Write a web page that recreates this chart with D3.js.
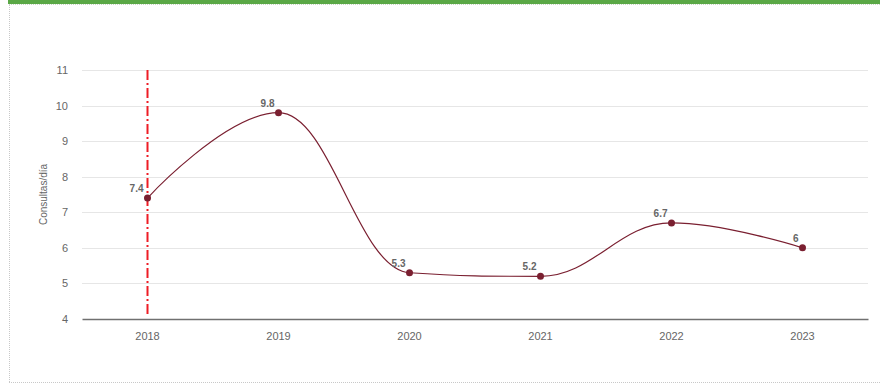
<!DOCTYPE html>
<html>
<head>
<meta charset="utf-8">
<script src="https://cdn.jsdelivr.net/npm/d3@7"></script>
<style>
  body { margin: 0; background: #fff; font-family: "Liberation Sans", Arial, sans-serif; }
  svg { display: block; }
  svg text { font-family: "Liberation Sans", Arial, sans-serif; }
</style>
</head>
<body>
<svg id="chart" width="880" height="384"></svg>
<script>
// chart data
var years = ['2018', '2019', '2020', '2021', '2022', '2023'];
var consultas = [7.4, 9.8, 5.3, 5.2, 6.7, 6];
var yTicks = [4, 5, 6, 7, 8, 9, 10, 11];
var markerYear = '2018';

var svg = d3.select('#chart');
var margin = { top: 70, right: 12, bottom: 65, left: 82 };
var width = +svg.attr('width');
var height = +svg.attr('height');
var innerWidth = width - margin.left - margin.right;
var innerHeight = height - margin.top - margin.bottom;

// frame: green strip on top, dotted border left and bottom
svg.append('rect')
    .attr('x', 8).attr('y', 0)
    .attr('width', width - 8).attr('height', 4)
    .attr('fill', '#5aa846');
svg.append('line')
    .attr('x1', 9).attr('x2', width).attr('y1', 4.5).attr('y2', 4.5)
    .attr('stroke', '#c9d9c4').attr('stroke-dasharray', '1,1');
svg.append('line')
    .attr('x1', 9.5).attr('x2', 9.5).attr('y1', 5).attr('y2', 383)
    .attr('stroke', '#c8c8c8').attr('stroke-dasharray', '1,1');
svg.append('line')
    .attr('x1', 9).attr('x2', width).attr('y1', 382.5).attr('y2', 382.5)
    .attr('stroke', '#c8c8c8').attr('stroke-dasharray', '1,1');

var g = svg.append('g')
    .attr('transform', `translate(${margin.left},${margin.top})`);

var xScale = d3.scaleBand().domain(years).range([0, innerWidth]);
var yScale = d3.scaleLinear().domain([4, 11]).range([innerHeight, 0]);
var xPos = function (d) { return xScale(d) + xScale.bandwidth() / 2; };

// gridlines
g.append('g').selectAll('line')
  .data(yTicks.slice(1))
  .enter().append('line')
    .attr('x1', 0).attr('x2', innerWidth)
    .attr('y1', function (d) { return Math.round(yScale(d)) + 0.5; })
    .attr('y2', function (d) { return Math.round(yScale(d)) + 0.5; })
    .attr('stroke', '#e6e6e6');

// y axis labels
var yAxis = d3.axisLeft(yScale)
    .tickValues(yTicks)
    .tickFormat(d3.format('d'))
    .tickSize(0)
    .tickPadding(14);
var yAxisG = g.append('g').call(yAxis)
    .attr('font-family', null).attr('font-size', null);
yAxisG.select('.domain').remove();
yAxisG.selectAll('text')
    .attr('fill', '#666').style('font-size', '11px');

// x axis
var xAxis = d3.axisBottom(xScale).tickSize(0).tickPadding(13);
var xAxisG = g.append('g')
    .attr('transform', `translate(0,${innerHeight})`)
    .call(xAxis)
    .attr('font-family', null).attr('font-size', null);
xAxisG.select('.domain').attr('stroke', '#707070').attr('stroke-width', 1.3);
xAxisG.selectAll('text')
    .attr('fill', '#666').style('font-size', '11px');

// y axis title
svg.append('text')
    .attr('transform', `translate(47,${margin.top + innerHeight / 2}) rotate(-90)`)
    .attr('text-anchor', 'middle')
    .attr('fill', '#666')
    .style('font-size', '10px')
    .text('Consultas/día');

// red dash-dot marker line
g.append('line')
    .attr('x1', xPos(markerYear)).attr('x2', xPos(markerYear))
    .attr('y1', 0).attr('y2', innerHeight - 4)
    .attr('stroke', '#ee1c25').attr('stroke-width', 2)
    .attr('stroke-dasharray', '10,3,2,3');

// spline curve, smoothing like a charting lib "spline" series
function splineCurve(context) {
  var pts = [];
  return {
    areaStart: function () {},
    areaEnd: function () {},
    lineStart: function () { pts = []; },
    point: function (x, y) { pts.push([x, y]); },
    lineEnd: function () {
      var s = 1.5, d = s + 1;
      var rc = [];
      context.moveTo(pts[0][0], pts[0][1]);
      for (var i = 1; i < pts.length; i++) {
        var p = pts[i], last = pts[i - 1];
        var lcx = p[0], lcy = p[1], rcx = null, rcy = null;
        if (i < pts.length - 1) {
          var next = pts[i + 1];
          lcx = (s * p[0] + last[0]) / d;
          lcy = (s * p[1] + last[1]) / d;
          rcx = (s * p[0] + next[0]) / d;
          rcy = (s * p[1] + next[1]) / d;
          var corr = ((rcy - lcy) * (rcx - p[0])) / (rcx - lcx) + p[1] - rcy;
          lcy += corr; rcy += corr;
          if (lcy > last[1] && lcy > p[1]) {
            lcy = Math.max(last[1], p[1]); rcy = 2 * p[1] - lcy;
          } else if (lcy < last[1] && lcy < p[1]) {
            lcy = Math.min(last[1], p[1]); rcy = 2 * p[1] - lcy;
          }
          if (rcy > next[1] && rcy > p[1]) {
            rcy = Math.max(next[1], p[1]); lcy = 2 * p[1] - rcy;
          } else if (rcy < next[1] && rcy < p[1]) {
            rcy = Math.min(next[1], p[1]); lcy = 2 * p[1] - rcy;
          }
        }
        var prev = rc[i - 1] || last;
        context.bezierCurveTo(prev[0], prev[1], lcx, lcy, p[0], p[1]);
        rc[i] = rcx === null ? null : [rcx, rcy];
      }
    }
  };
}

var data = years.map(function (y, i) { return { year: y, value: consultas[i] }; });

var line = d3.line()
    .x(function (d) { return xPos(d.year); })
    .y(function (d) { return yScale(d.value); })
    .curve(splineCurve);

g.append('path')
    .datum(data)
    .attr('fill', 'none')
    .attr('stroke', '#7a1f30')
    .attr('stroke-width', 1.2)
    .attr('d', line);

g.selectAll('circle')
  .data(data)
  .enter().append('circle')
    .attr('cx', function (d) { return xPos(d.year); })
    .attr('cy', function (d) { return yScale(d.value); })
    .attr('r', 3.5)
    .attr('fill', '#7a1f30');

g.selectAll('.label')
  .data(data)
  .enter().append('text')
    .attr('class', 'label')
    .attr('x', function (d) { return xPos(d.year) - 4; })
    .attr('y', function (d) { return yScale(d.value) - 6; })
    .attr('text-anchor', 'end')
    .attr('fill', '#666')
    .style('font-size', '10px')
    .style('font-weight', 'bold')
    .text(function (d) { return d.value; });
</script>
</body>
</html>
